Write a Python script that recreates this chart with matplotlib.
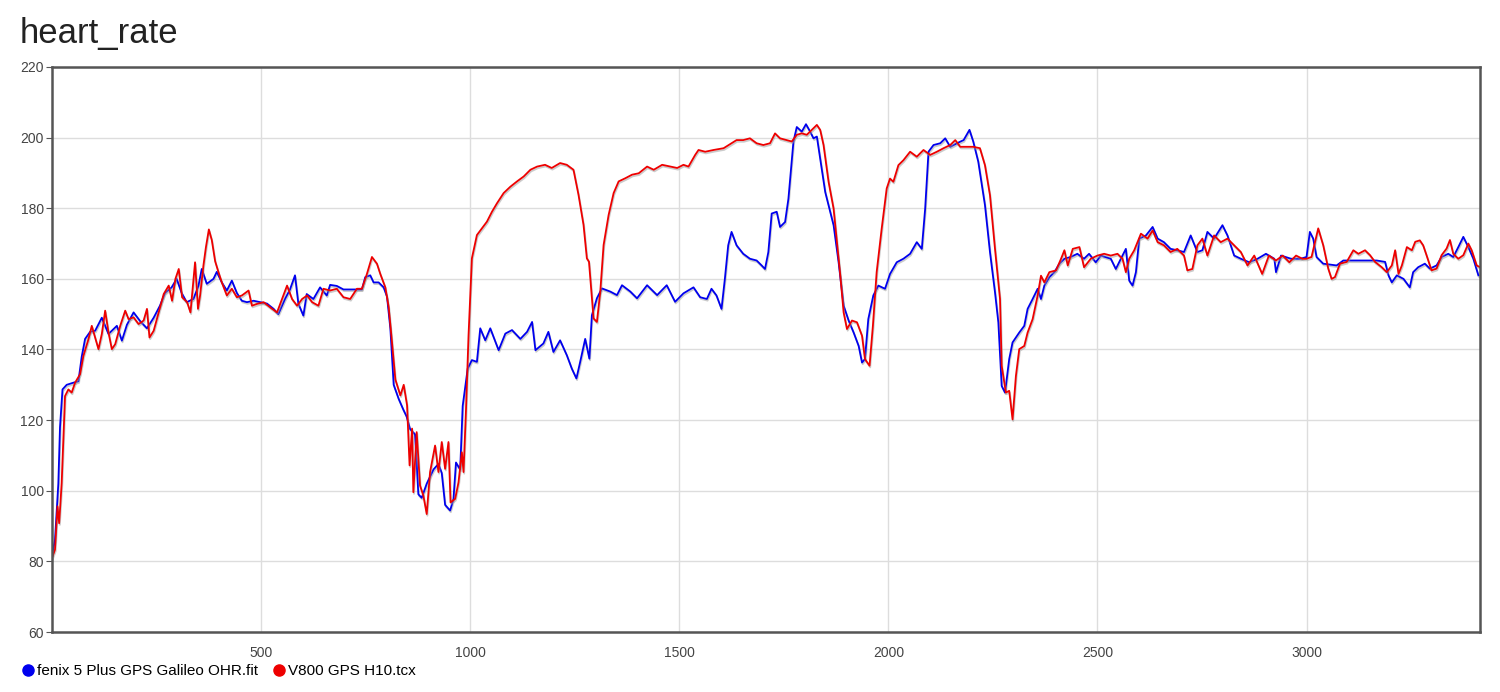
import matplotlib
matplotlib.use("Agg")
import matplotlib.pyplot as plt
from matplotlib.lines import Line2D
import matplotlib.patheffects as pe

# fenix 5 Plus (wrist optical) - seconds / bpm
fenix_t = [0, 7, 15, 19, 25, 35, 51, 63, 71, 79, 91, 103, 119, 135, 155, 167, 179, 195, 211, 227,
           243, 258, 270, 286, 298, 310, 322, 338, 350, 358, 370, 386, 394, 406, 418, 430, 442, 454,
           466, 482, 498, 514, 530, 541, 557, 569, 581, 589, 601, 609, 625, 641, 657, 665, 681, 697,
           721, 741, 749, 761, 769, 781, 793, 801, 809, 817, 829, 840, 848, 856, 868, 876, 884, 896,
           912, 924, 932, 940, 952, 960, 966, 976, 982, 994, 1004, 1016, 1024, 1036, 1048, 1068,
           1084, 1100, 1120, 1136, 1148, 1156, 1175, 1187, 1199, 1215, 1231, 1243, 1254, 1263,
           1275, 1285, 1291, 1303, 1315, 1335, 1351, 1363, 1383, 1399, 1423, 1447, 1470, 1490,
           1510, 1534, 1550, 1566, 1577, 1589, 1601, 1609, 1617, 1625, 1637, 1653, 1669, 1685,
           1697, 1705, 1713, 1721, 1733, 1741, 1753, 1761, 1773, 1781, 1793, 1803, 1813, 1821,
           1829, 1837, 1849, 1861, 1869, 1881, 1893, 1905, 1917, 1929, 1937, 1944, 1952, 1964,
           1976, 1992, 2004, 2020, 2036, 2052, 2068, 2080, 2088, 2096, 2108, 2124, 2136, 2148,
           2164, 2180, 2194, 2203, 2215, 2231, 2243, 2255, 2263, 2271, 2279, 2289, 2297, 2313,
           2325, 2333, 2345, 2357, 2365, 2373, 2385, 2397, 2409, 2421, 2436, 2452, 2468, 2480,
           2496, 2508, 2532, 2544, 2556, 2568, 2576, 2584, 2592, 2600, 2616, 2632, 2644, 2659,
           2675, 2691, 2707, 2723, 2739, 2751, 2763, 2779, 2799, 2811, 2827, 2843, 2863, 2883,
           2903, 2923, 2927, 2939, 2963, 2986, 3000, 3008, 3016, 3024, 3040, 3072, 3088, 3128,
           3168, 3188, 3196, 3204, 3216, 3232, 3247, 3255, 3267, 3283, 3295, 3311, 3323, 3339,
           3351, 3363, 3375, 3387, 3399, 3411]
fenix_hr = [82, 86, 102, 118, 128.7, 130, 130.6, 131, 138, 143, 145, 145.3, 149, 144.4, 146.7, 142.5,
            147, 150.5, 148, 146, 149, 152.4, 156, 157.6, 160, 156, 153.4, 154.3, 158, 162.8, 158.6,
            160, 162, 159, 156.7, 159.5, 156, 153.8, 153.4, 153.8, 153.4, 153, 151.5, 150, 154.3,
            157, 161, 153, 149.6, 155.7, 154.3, 157.6, 155.3, 158.3, 158, 157, 157, 157, 160.5, 161,
            159, 159, 157.6, 155, 146, 130, 126, 123, 121, 117.5, 116, 99, 98, 102, 106, 107.6, 105,
            96, 94.4, 97.7, 108, 106, 124, 134.6, 137, 136.5, 146, 142.6, 146, 139.8, 144.5, 145.5,
            143, 145, 147.8, 139.8, 141.7, 145, 139.3, 142.6, 138.4, 134.6, 131.8, 136.5, 143,
            137.4, 149.7, 154.5, 157.3, 156.4, 155.4, 158.2, 156.4, 154.5, 158.2, 155.4, 158.2,
            153.5, 155.9, 157.6, 154.8, 154.3, 157.2, 155.3, 151.5, 160, 169.5, 173.3, 169.5, 167.1,
            165.7, 165.2, 163.8, 162.8, 167.6, 178.5, 179, 174.7, 176.1, 182.7, 198.9, 203, 201.7,
            203.8, 201.7, 199.8, 200.3, 194, 184.6, 179, 175.2, 164.7, 152.4, 148.2, 144.8, 141,
            136.3, 137.3, 148.6, 155.3, 158.1, 157.2, 161.4, 164.7, 165.7, 167.1, 170.4, 168.5,
            179.9, 196, 197.9, 198.4, 199.8, 197.4, 198.4, 199.3, 202.2, 198.9, 193.2, 180.9, 167.6,
            156.2, 147.7, 129.7, 127.8, 137.3, 142, 144.8, 146.7, 151.5, 154.3, 157.2, 154.3, 158.1,
            160.5, 161.9, 164.3, 165.7, 166.2, 167.1, 165.7, 167.1, 164.7, 166.6, 165.7, 162.8,
            165.7, 168.5, 159.5, 158.1, 161.9, 171.4, 172.3, 174.7, 171.4, 170.4, 168.5, 168.1,
            167.6, 172.3, 167.6, 168.1, 173.3, 171.4, 175.2, 172.3, 166.6, 165.7, 164.7, 165.7,
            167.1, 165.7, 161.9, 166.6, 165.7, 165.7, 166.2, 173.3, 171.4, 166.2, 164.3, 163.8,
            165.2, 165.2, 165.2, 164.8, 161, 159, 161, 160, 157.6, 161.9, 163.3, 164.3, 162.9,
            163.8, 166.2, 167.1, 166.2, 169, 171.9, 169, 165.7, 161]

# Polar V800 with H10 chest strap
v800_t = [0, 7, 13, 17, 23, 31, 39, 47, 55, 67, 75, 87, 95, 103, 111, 119, 127, 135, 143, 151, 163,
          175, 183, 195, 207, 219, 227, 233, 243, 255, 267, 279, 287, 295, 303, 311, 323, 331, 342,
          349, 354, 362, 368, 375, 382, 390, 398, 406, 418, 430, 442, 454, 470, 478, 490, 506, 522,
          538, 550, 562, 574, 586, 598, 610, 622, 637, 649, 665, 681, 697, 713, 729, 741, 753, 765,
          777, 785, 797, 805, 813, 821, 833, 841, 849, 855, 861, 864, 872, 880, 888, 896, 904, 916,
          924, 932, 940, 948, 953, 964, 972, 980, 984, 990, 996, 1004, 1016, 1028, 1040, 1052,
          1064, 1080, 1096, 1112, 1128, 1144, 1160, 1179, 1195, 1215, 1231, 1247, 1259, 1271,
          1279, 1284, 1288, 1295, 1303, 1311, 1319, 1331, 1343, 1355, 1371, 1387, 1403, 1423,
          1439, 1459, 1479, 1495, 1510, 1522, 1538, 1546, 1562, 1582, 1606, 1625, 1637, 1653,
          1669, 1685, 1701, 1717, 1729, 1741, 1757, 1769, 1781, 1793, 1805, 1817, 1829, 1837,
          1845, 1857, 1869, 1877, 1885, 1893, 1901, 1913, 1925, 1937, 1944, 1955, 1963, 1972,
          1984, 1996, 2004, 2012, 2024, 2036, 2052, 2068, 2084, 2100, 2116, 2132, 2148, 2160,
          2172, 2188, 2203, 2219, 2231, 2243, 2255, 2267, 2271, 2281, 2289, 2297, 2305, 2313,
          2325, 2333, 2345, 2357, 2365, 2373, 2385, 2401, 2413, 2421, 2429, 2441, 2457, 2468,
          2484, 2500, 2516, 2532, 2548, 2560, 2568, 2576, 2588, 2604, 2620, 2632, 2644, 2659,
          2675, 2691, 2707, 2715, 2727, 2739, 2751, 2763, 2779, 2795, 2811, 2827, 2843, 2859,
          2875, 2894, 2910, 2927, 2943, 2959, 2975, 2990, 3000, 3012, 3028, 3040, 3052, 3060,
          3068, 3080, 3096, 3112, 3124, 3140, 3152, 3164, 3180, 3192, 3204, 3212, 3220, 3228,
          3240, 3252, 3260, 3271, 3279, 3287, 3299, 3311, 3323, 3335, 3343, 3351, 3363, 3375,
          3387, 3395, 3407, 3415]
v800_hr = [81, 83.3, 95.6, 90.8, 102.2, 126.8, 128.7, 127.8, 130.6, 133, 138.2, 142.9, 146.7, 143.4,
           140.1, 144.4, 151, 144.8, 140.1, 141.5, 146.7, 151, 148.6, 149.1, 147.2, 148.2, 151.5,
           143.4, 145.3, 150.5, 155.7, 158.1, 153.8, 160, 162.8, 154.8, 153.4, 150.5, 164.7, 151.5,
           155.3, 163.8, 169, 174, 171, 165, 161.9, 159, 155.3, 157.2, 154.8, 155.3, 156.7, 152.4,
           152.9, 153.4, 151.9, 150.5, 154.3, 158.1, 154.3, 152.4, 154.3, 155.3, 153.4, 152.4,
           157.2, 156.7, 157.2, 154.8, 154.3, 157.2, 157.2, 161.4, 166.2, 164.3, 161.4, 157.6, 152,
           142, 131.5, 127, 130, 124.2, 107.2, 117.6, 99.6, 116.6, 101.5, 98.6, 93.4, 105.3, 112.8,
           105.3, 113.8, 106.2, 113.8, 96.7, 97.7, 102.4, 110.9, 105.3, 123.2, 144, 165.8, 172.4,
           174.3, 176.2, 179, 181.4, 184.3, 186.1, 187.6, 189, 190.9, 191.8, 192.3, 191.4, 192.8,
           192.3, 190.9, 183.8, 175.3, 165.8, 164.9, 159.1, 148.8, 147.8, 156.3, 169.6, 178.1,
           184.3, 187.6, 188.5, 189.5, 189.9, 191.8, 190.9, 192.3, 191.8, 191.4, 192.3, 191.8,
           195.1, 196.5, 196, 196.5, 197, 198.4, 199.3, 199.3, 199.8, 198.4, 197.9, 198.4, 201.2,
           199.8, 199.3, 198.9, 200.8, 201.2, 200.8, 202.2, 203.6, 202.2, 197.9, 187.5, 179.9,
           170.4, 161, 150.5, 145.8, 148.2, 147.7, 143.9, 137.3, 135.4, 146.7, 161.9, 174.2, 185.6,
           188.4, 187.5, 192.2, 193.6, 196, 194.6, 196.5, 195.1, 196, 197, 197.9, 199.3, 197.4,
           197.4, 197.4, 197, 192.2, 183.7, 168.5, 154.3, 135.4, 127.8, 128.3, 120.2, 132.5, 140.1,
           141, 144.8, 148.6, 155.3, 160.9, 159, 161.9, 162.4, 165.7, 168.1, 163.8, 168.5, 169,
           163.3, 165.7, 166.6, 167.1, 166.6, 167.1, 165.7, 161.9, 165.7, 168.1, 172.8, 171.4,
           173.7, 170.4, 169.5, 167.6, 168.5, 166.6, 162.4, 162.8, 169.5, 171.4, 166.6, 172.3,
           170.4, 171.4, 169.5, 167.6, 163.8, 166.6, 161.4, 166.6, 165.2, 166.6, 164.7, 166.6,
           165.7, 165.7, 166.2, 174.3, 169.5, 162.9, 160, 160.5, 164.3, 164.8, 168.1, 167.1, 168.1,
           166.7, 164.8, 163.3, 161.9, 163.8, 168.1, 161.4, 163.8, 169, 168.1, 170.5, 170.9, 169.5,
           166.7, 162.4, 162.9, 166.7, 168.6, 171, 167.1, 165.7, 166.7, 170, 168.1, 163.8, 163.3]

labels = ["fenix 5 Plus GPS Galileo OHR.fit", "V800 GPS H10.tcx"]
colors = ["#0000ee", "#ee0000"]
y_ticks = [60, 80, 100, 120, 140, 160, 180, 200, 220]
x_ticks = [500, 1000, 1500, 2000, 2500, 3000]

plt.rcParams['font.family'] = ['Liberation Sans', 'DejaVu Sans']

fig = plt.figure(figsize=(15, 6.92), dpi=100)
ax = fig.add_axes([0.0347, 0.0867, 0.952, 0.8165])

shadow = [pe.SimpleLineShadow(offset=(0.5, -1.2), shadow_color="#999999", alpha=0.5), pe.Normal()]
ax.plot(fenix_t, fenix_hr, color=colors[0], lw=1.3, path_effects=shadow)
ax.plot(v800_t, v800_hr, color=colors[1], lw=1.3, path_effects=shadow)

ax.set_xlim(0, 3415)
ax.set_ylim(60, 220)
ax.set_yticks(y_ticks)
ax.set_xticks(x_ticks)
ax.grid(True, color="#dddddd", lw=1)
ax.set_axisbelow(True)
for s in ax.spines.values():
    s.set_color("#555555")
    s.set_linewidth(1.8)
ax.tick_params(axis="y", length=4, color="#555555", labelsize=10, labelcolor="#444444", pad=2)
ax.tick_params(axis="x", length=0, labelsize=10, labelcolor="#444444", pad=10)

fig.text(0.013, 0.951, "heart_rate", fontsize=25, color="#222222", va="center", ha="left")

handles = [Line2D([], [], ls="none", marker="o", markersize=8, color=c) for c in colors]
fig.legend(handles, labels, loc="center left", bbox_to_anchor=(0.011, 0.03), ncol=2,
           frameon=False, fontsize=11, handlelength=0.7, handletextpad=0.25,
           columnspacing=1.0, borderaxespad=0)

fig.savefig("out.png", dpi=100)
